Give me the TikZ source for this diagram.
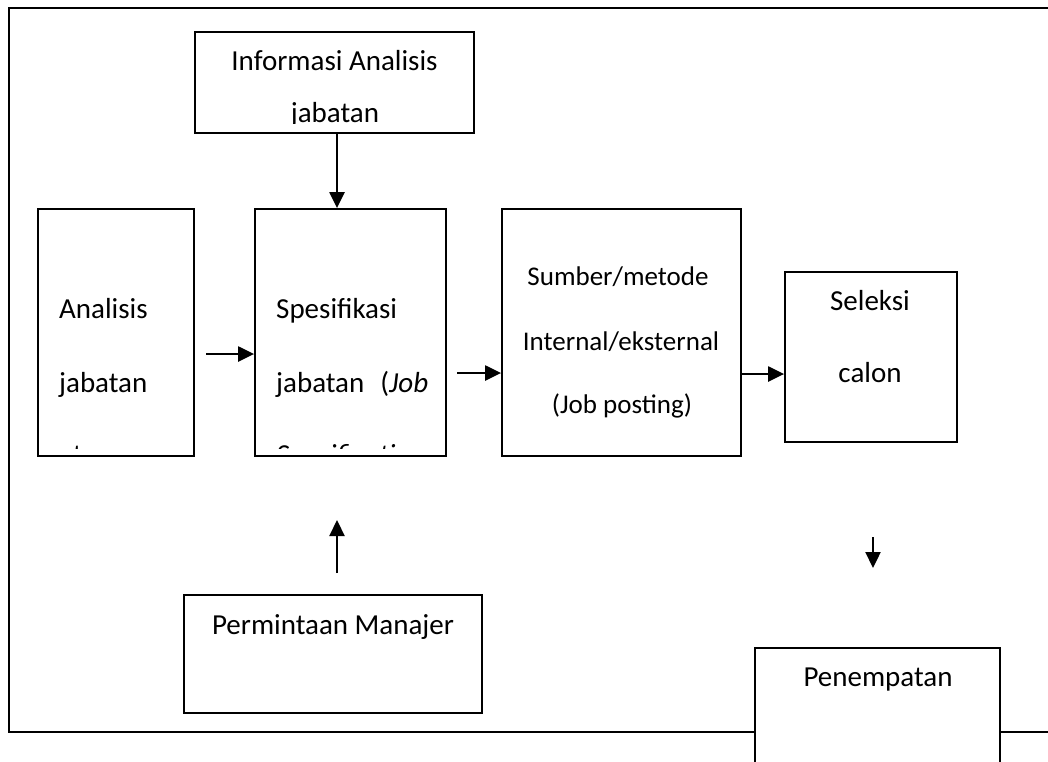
\documentclass[tikz,border=0pt]{standalone}
\usepackage{fontspec}
\setmainfont{Carlito}
\usetikzlibrary{arrows.meta}
\begin{document}
\begin{tikzpicture}[x=1pt,y=-1pt,
  box/.style={draw=black, line width=1.8pt, fill=white, inner sep=0pt},
  txt/.style={inner sep=0pt, anchor=base, font=\fontsize{29}{35}\selectfont},
  txtl/.style={txt, anchor=base west},
  txts/.style={txt, font=\fontsize{27}{32}\selectfont},
  arr/.style={line width=2.3pt, -{Triangle[length=16pt,width=15pt]}}
]
\useasboundingbox (0,0) rectangle (1048,761);
\clip (0,0) rectangle (1048,761);

% outer frame (open to the right)
\draw[line width=2.5pt] (1060,8) -- (9,8) -- (9,732) -- (1060,732);

% boxes
\node[box, minimum width=279pt, minimum height=101pt] (info) at (334.5,82.5) {};
\node[box, minimum width=156pt, minimum height=247pt] (anal) at (116,332.5) {};
\node[box, minimum width=191pt, minimum height=247pt] (spes) at (350.5,332.5) {};
\node[box, minimum width=239pt, minimum height=247pt] (sumb) at (621.5,332.5) {};
\node[box, minimum width=172pt, minimum height=170pt] (sel) at (871,357) {};
\node[box, minimum width=298pt, minimum height=118pt] (perm) at (333,654) {};
\node[box, minimum width=245pt, minimum height=144pt] (pen) at (877.5,720) {};

% box texts, cut off at the inner margin of each box
\begin{scope}
  \clip (info.north west) rectangle ([yshift=10.5pt]info.south east);
  \node[txt] (infoA) at (334.5,70) {Informasi Analisis};
  \node[txt] (infoB) at (335,122.5) {jabatan};
\end{scope}
\begin{scope}
  \clip (anal.north west) rectangle ([yshift=8pt]anal.south east);
  \node[txtl] (analA) at (59,318) {Analisis};
  \node[txtl] (analB) at (59,392) {jabatan};
  \node[txtl] (analC) at (59,464) {atau};
\end{scope}
\begin{scope}
  \clip (spes.north west) rectangle ([yshift=8pt]spes.south east);
  \node[txtl] (spesA) at (276,318) {Spesifikasi};
  \node[txtl] (spesB) at (276,392) {jabatan\hspace{16pt}(\textit{Job}};
  \node[txtl] (spesC) at (276,464) {\textit{Specification}};
\end{scope}
\node[txts] (sumbA) at (618,285.5) {Sumber/metode};
\node[txts] (sumbB) at (621,350.5) {Internal/eksternal};
\node[txts] (sumbC) at (622,413) {(Job posting)};
\node[txt] (selA) at (870,310) {Seleksi};
\node[txt] (selB) at (870,382) {calon};
\node[txt] (permA) at (333,634) {Permintaan Manajer};
\node[txt] (penA) at (878,686) {Penempatan};

% connectors
\draw[arr] ([xshift=2.5pt]info.south) -- ([xshift=2.5pt]info.south |- spes.north);
\coordinate (a1) at (206,354);
\draw[arr] (a1) -- (a1 -| spes.west);
\coordinate (a2) at (457,373);
\draw[arr] (a2) -- (a2 -| sumb.west);
\coordinate (a3) at (741,374);
\draw[arr] (a3) -- (a3 -| sel.west);
\coordinate (u1) at (337,573);
\coordinate (u2) at (337,520);
\draw[arr] (u1) -- (u2);
\coordinate (d1) at (873,537);
\coordinate (d2) at (873,568);
\draw[arr] (d1) -- (d2);
\end{tikzpicture}
\end{document}
